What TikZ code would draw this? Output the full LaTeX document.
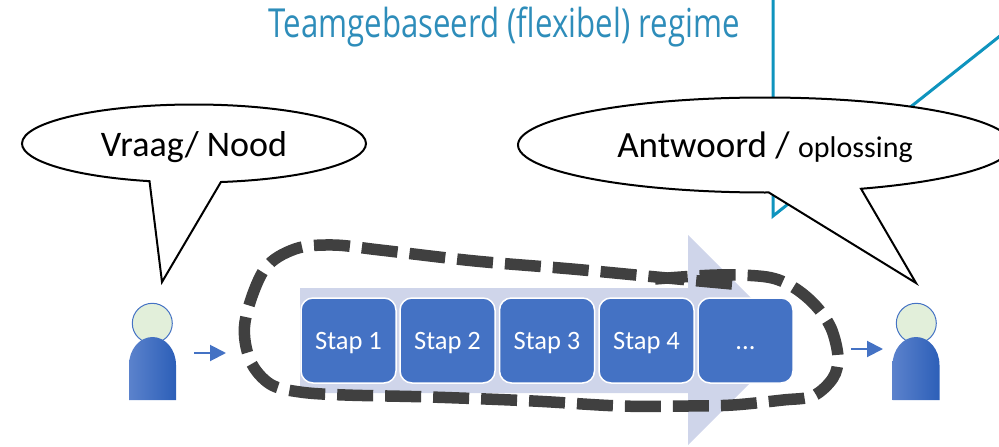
\documentclass[tikz,border=0pt]{standalone}
\usepackage{fontspec}
\setmainfont{Carlito}
\newfontfamily\titlefont[FakeStretch=0.78]{Open Sans}
\usepackage{tikz}
\usetikzlibrary{arrows.meta,shapes.callouts}
\definecolor{stapblue}{HTML}{4472C4}
\definecolor{pijlblue}{HTML}{CFD5EA}
\definecolor{hoofdgreen}{HTML}{E2EFDA}
\definecolor{lijnteal}{HTML}{0F94BE}
\definecolor{titelteal}{HTML}{2E8DBA}
\definecolor{lusgrey}{HTML}{404040}
\definecolor{lijflinks}{HTML}{5B82CC}
\definecolor{lijfrechts}{HTML}{2C5FB8}

\begin{document}
\begin{tikzpicture}[
    x=1pt, y=-1pt,
    stap/.style={rectangle, draw=white, line width=1.5pt, fill=stapblue, rounded corners=12pt, minimum width=95pt, minimum height=85pt, text=white, font=\fontsize{26.5}{30}\selectfont},
    bubble/.style={ellipse callout, draw=black, line width=2pt, fill=white, inner sep=0pt},
    hoofd/.style={circle, draw=stapblue, fill=hoofdgreen, line width=1pt, minimum size=40pt, inner sep=0pt},
    lijf/.style={left color=lijflinks, right color=lijfrechts},
    pijltje/.style={draw=stapblue, fill=stapblue, line width=2pt, -{Triangle[length=16pt,width=16pt]}},
    lijn/.style={draw=lijnteal, line width=3pt}
]
\useasboundingbox (0,0) rectangle (999,447);
\clip (0,0) rectangle (999,447);

\node[text=titelteal, font=\titlefont\fontsize{40}{46}\selectfont] (titel) at (504,27) {Teamgebaseerd (flexibel) regime};

\coordinate (lijnboven) at (773,-5);
\coordinate (lijnhoek) at (773,216);
\coordinate (lijnrechts) at (1005,32);
\draw[lijn, line join=miter] (lijnboven) -- (lijnhoek) -- (lijnrechts);

\fill[pijlblue] (300,288) -- (688,288) -- (688,235) -- (793,340) -- (688,445) -- (688,393) -- (300,393) -- cycle;

\node[stap] (stap1) at (348.5,340.5) {\raisebox{-9pt}[0pt][0pt]{Stap 1}};
\node[stap] (stap2) at (447.5,340.5) {\raisebox{-9pt}[0pt][0pt]{Stap 2}};
\node[stap] (stap3) at (547,340.5) {\raisebox{-9pt}[0pt][0pt]{Stap 3}};
\node[stap] (stap4) at (646.5,340.5) {\raisebox{-9pt}[0pt][0pt]{Stap 4}};
\node[stap] (stap5) at (745.5,340.5) {\raisebox{-9pt}[0pt][0pt]{...}};

\draw[lusgrey, line width=11.5pt, dash pattern=on 36pt off 12pt] plot[smooth, tension=0.55] coordinates {
    (732,284) (667,278) (572,269) (475,261) (380,250) (333,245) (295,249) (264,270) (245,322)
    (250,360) (270,384) (300,392) (345,395) (430,397) (533,401) (620,406) (688,406) (733,405)
    (783,400) (813,396) (833,378) (838,357) (831,328) (815,305) (793,287) (767,277) (717,275) (655,279)};

\node[hoofd] (hoofd1) at (152.3,323.3) {};
\path[lijf] (129,400) -- (129,365) arc[start angle=180, end angle=0, x radius=23.5pt, y radius=28pt] -- (176,400) -- cycle;
\node[hoofd] (hoofd2) at (916.3,323.3) {};
\path[lijf] (892.5,400) -- (892.5,365) arc[start angle=180, end angle=0, x radius=23.5pt, y radius=28pt] -- (939.5,400) -- cycle;

\coordinate (pijl1a) at (194,353);
\coordinate (pijl1b) at (226,353);
\coordinate (pijl2a) at (851,349);
\coordinate (pijl2b) at (883,349);
\draw[pijltje] (pijl1a) -- (pijl1b);
\draw[pijltje] (pijl2a) -- (pijl2b);

\node[bubble, minimum width=344pt, minimum height=78pt, callout absolute pointer={(162,282)}, callout pointer arc=24, font=\fontsize{36}{42}\selectfont] (vraag) at (194,143.5) {\raisebox{-13pt}[0pt][0pt]{Vraag/ Nood}};
\node[bubble, minimum width=494pt, minimum height=95pt, callout absolute pointer={(916,283)}, callout pointer arc=22, font=\fontsize{37}{42}\selectfont] (antwoord) at (765,145) {\raisebox{-12pt}[0pt][0pt]{Antwoord / {\fontsize{30}{34}\selectfont oplossing}}};
\end{tikzpicture}
\end{document}
